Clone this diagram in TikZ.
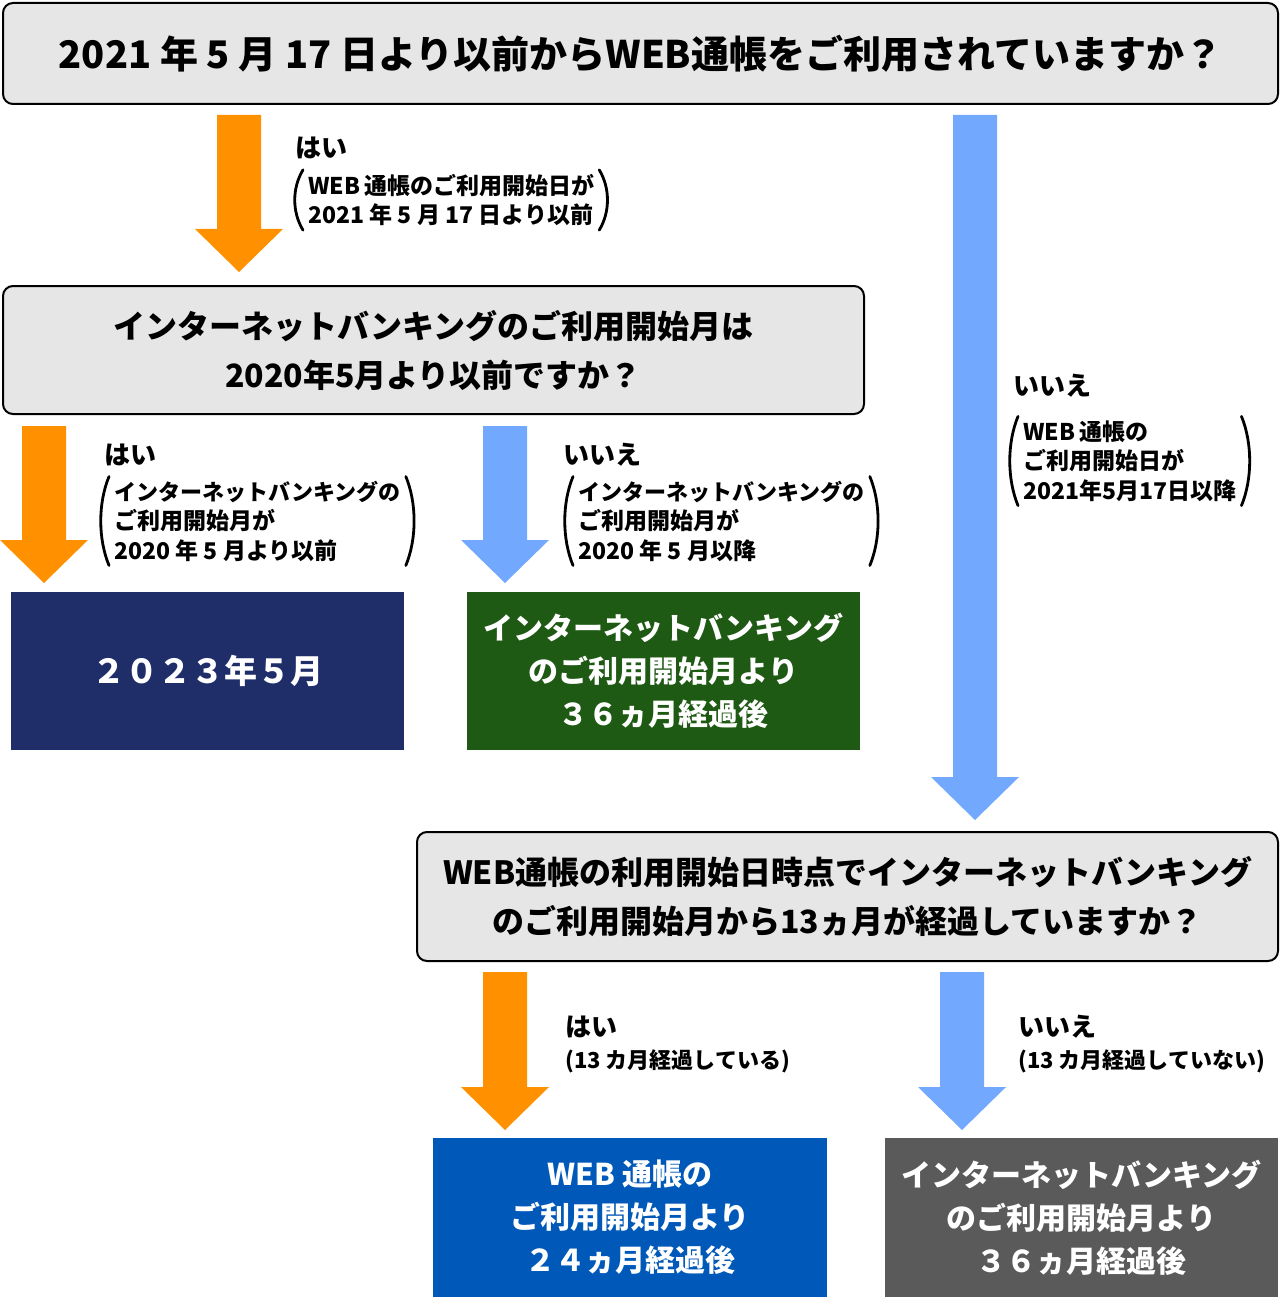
\documentclass[tikz,border=0pt]{standalone}
\usepackage{fontspec}
\setmainfont{Noto Sans CJK JP}
\usetikzlibrary{calc}
\definecolor{qgray}{HTML}{E6E6E6}
\definecolor{yescol}{HTML}{FF9100}
\definecolor{nocol}{HTML}{72A9FF}
\definecolor{navycol}{HTML}{1F2D69}
\definecolor{greencol}{HTML}{1F5A14}
\definecolor{bluecol}{HTML}{0058B8}
\definecolor{darkgraycol}{HTML}{5A5A5A}
\newcommand\blockarrow[3]{%
  \fill[#1] ($(#2)+(-22,0)$) -- ($(#3)+(-22,-43)$) -- ($(#3)+(-44,-43)$) -- (#3)
    -- ($(#3)+(44,-43)$) -- ($(#3)+(22,-43)$) -- ($(#2)+(22,0)$) -- cycle;}
\newcommand\parenpair[1]{%
  \draw[parenline] ($(#1.north west)+(8,0)$)
    .. controls ($(#1.north west)!0.3!(#1.south west)+(-3,0)$)
    and ($(#1.north west)!0.7!(#1.south west)+(-3,0)$) .. ($(#1.south west)+(8,0)$);
  \draw[parenline] ($(#1.north east)+(-8,0)$)
    .. controls ($(#1.north east)!0.3!(#1.south east)+(3,0)$)
    and ($(#1.north east)!0.7!(#1.south east)+(3,0)$) .. ($(#1.south east)+(-8,0)$);}
\newcommand\katline[1]{{\fontsize{22}{29.5}\selectfont #1}}
\tikzset{
  qbox/.style={draw=black, line width=2pt, fill=qgray, rounded corners=10pt,
    anchor=north west, outer sep=0pt, inner sep=0pt, align=center,
    font=\fontsize{32}{49}\selectfont\bfseries},
  rbox/.style={fill=#1, text=white, anchor=north west, outer sep=0pt, inner sep=0pt,
    minimum width=393pt, minimum height=158pt, align=center,
    font=\fontsize{30}{43}\selectfont\bfseries},
  yn/.style={anchor=west, inner sep=0pt, font=\fontsize{26}{30}\selectfont\bfseries},
  pn/.style={anchor=west, inner xsep=13pt, inner ysep=4pt, align=left,
    font=\fontsize{23}{29.5}\selectfont\bfseries},
  subl/.style={anchor=west, inner sep=0pt, font=\fontsize{22}{26}\selectfont\bfseries},
  parenline/.style={line width=2.8pt, line cap=round}
}
\begin{document}
\begin{tikzpicture}[x=1pt,y=-1pt]
\useasboundingbox (0,0) rectangle (1280,1297);
% question boxes
\node[qbox, minimum width=1275pt, minimum height=101pt,
  font=\fontsize{38}{45}\selectfont\bfseries] (q1) at (3,3)
  {2021 年 5 月 17 日より以前からWEB通帳をご利用されていますか？};
\node[qbox, minimum width=861pt, minimum height=128pt] (q2) at (3,286)
  {インターネットバンキングのご利用開始月は\\2020年5月より以前ですか？};
\node[qbox, minimum width=861pt, minimum height=129pt] (q3) at (417,832)
  {WEB通帳の利用開始日時点でインターネットバンキング\\のご利用開始月から13ヵ月が経過していますか？};
% result boxes
\node[rbox=navycol, font=\fontsize{33}{43}\selectfont\bfseries] (r1) at (11,592) {２０２３年５月};
\node[rbox=greencol] (r2) at (467,592) {インターネットバンキング\\のご利用開始月より\\３６ヵ月経過後};
\node[rbox=bluecol, minimum width=394pt, minimum height=159pt] (r3) at (433,1138) {WEB 通帳の\\ご利用開始月より\\２４ヵ月経過後};
\node[rbox=darkgraycol, minimum height=159pt] (r4) at (885,1138) {インターネットバンキング\\のご利用開始月より\\３６ヵ月経過後};
% arrow end points
\coordinate (a1s) at ($(q1.south west)+(236,11)$);
\coordinate (a1e) at ($(q2.north west)+(236,-14)$);
\coordinate (a2s) at ($(q2.south west)+(41,12)$);
\coordinate (a2e) at ($(r1.north west)+(33,-9)$);
\coordinate (a3s) at ($(q2.south west)+(502,12)$);
\coordinate (a3e) at ($(r2.north west)+(38,-9)$);
\coordinate (a4s) at ($(q1.south west)+(972,11)$);
\coordinate (a4e) at ($(q3.north west)+(558,-12)$);
\coordinate (a5s) at ($(q3.south west)+(88,11)$);
\coordinate (a5e) at ($(r3.north west)+(72,-8)$);
\coordinate (a6s) at ($(q3.south west)+(545,11)$);
\coordinate (a6e) at ($(r4.north west)+(77,-8)$);
\blockarrow{yescol}{a1s}{a1e}
\blockarrow{yescol}{a2s}{a2e}
\blockarrow{nocol}{a3s}{a3e}
\blockarrow{nocol}{a4s}{a4e}
\blockarrow{yescol}{a5s}{a5e}
\blockarrow{nocol}{a6s}{a6e}
% labels
\node[yn] (l1) at (295,148) {はい};
\node[pn] (p1) at (295,200) {WEB\,通帳のご利用開始日が\\2021 年 5 月 17 日より以前};
\parenpair{p1}
\node[yn] (l2) at (104,455) {はい};
\node[pn] (p2) at (101,521) {\katline{インターネットバンキングの}\\ご利用開始月が\\2020 年 5 月より以前};
\parenpair{p2}
\node[yn] (l3) at (563,455) {いいえ};
\node[pn] (p3) at (565,521) {\katline{インターネットバンキングの}\\ご利用開始月が\\2020 年 5 月以降};
\parenpair{p3}
\node[yn] (l4) at (1013,386) {いいえ};
\node[pn] (p4) at (1010,461) {WEB\,通帳の\\ご利用開始日が\\2021年5月17日以降};
\parenpair{p4}
\node[yn] (l5) at (565,1027) {はい};
\node[subl] (s5) at (565,1061) {(13 カ月経過している)};
\node[yn] (l6) at (1018,1027) {いいえ};
\node[subl] (s6) at (1018,1061) {(13 カ月経過していない)};
\end{tikzpicture}
\end{document}
